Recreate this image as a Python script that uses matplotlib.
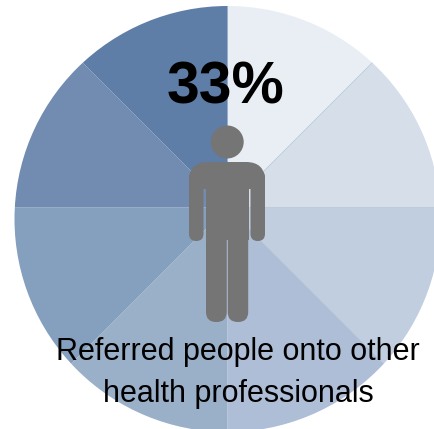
import matplotlib
matplotlib.use('Agg')
import matplotlib.pyplot as plt
from matplotlib.patches import Circle, FancyBboxPatch, Rectangle

plt.rcParams['font.family'] = ['Liberation Sans', 'DejaVu Sans']

# eight equal slices, clockwise from twelve o'clock
slices = [1, 1, 1, 1, 1, 1, 1, 1]
slice_colors = ['#E8EEF3', '#D6DEE9', '#C1CEDF', '#AEBED6',
                '#9AAFC8', '#859FBE', '#718CB0', '#5E7EA8']
percent_label = '33%'
caption_lines = ['Referred people onto other', 'health professionals']

grey = '#757575'

fig = plt.figure(figsize=(4.34, 4.29), dpi=100)
ax = fig.add_axes([0, 0, 1, 1])

# the y axis runs downward, so increasing angles go clockwise on screen
wedges, _ = ax.pie(slices, colors=slice_colors, startangle=-90, counterclock=True,
                   center=(227.5, 207.5), radius=320,
                   wedgeprops={'linewidth': 0})
ax.set_xlim(0, 434)
ax.set_ylim(429, 0)
ax.set_aspect('equal')
ax.axis('off')

# the slices meet above the middle of the disc they are cut from
outline = Circle((227.5, 219), 213, transform=ax.transData)
for i, w in enumerate(wedges):
    w.set_clip_on(True)
    w.set_clip_path(outline)
    # only the pale slices show a thin seam
    if i < 3:
        w.set_edgecolor('#B4C3D6')
        w.set_linewidth(0.35)


def rounded(x, y, w, h, r):
    p = FancyBboxPatch((x + r, y + r), w - 2*r, h - 2*r,
                       boxstyle='round,pad=%g,rounding_size=%g' % (r, r),
                       fc=grey, ec='none', zorder=3)
    ax.add_patch(p)
    return p


# person
ax.add_patch(Circle((227.2, 142), 16.5, fc=grey, ec='none', zorder=3))
shoulders = rounded(189, 162, 76, 60, 19)
shoulders.set_clip_path(Rectangle((180, 150), 94, 38.5, transform=ax.transData))
rounded(189, 170, 14.5, 71, 7.2)
rounded(250.5, 170, 14.5, 71, 7.2)
ax.add_patch(Rectangle((205.5, 175), 43, 65, fc=grey, ec='none', zorder=3))
rounded(206, 200, 20.7, 122, 10)
rounded(227.7, 200, 20.5, 122, 10)

ax.text(225.5, 88, percent_label, fontsize=42.3, fontweight='bold', color='black',
        ha='center', va='center', zorder=4)
ax.text(238, 352, caption_lines[0], fontsize=22, color='black',
        ha='center', va='center', zorder=4)
ax.text(238, 394, caption_lines[1], fontsize=22, color='black',
        ha='center', va='center', zorder=4)

fig.savefig('out.png', dpi=100)
